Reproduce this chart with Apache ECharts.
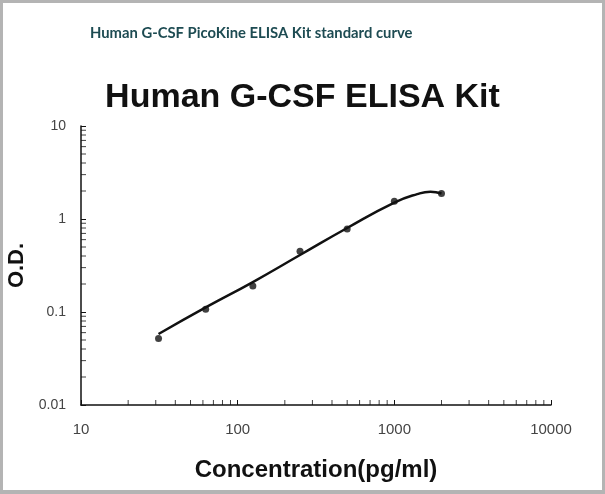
<!DOCTYPE html>
<html>
<head>
<meta charset="utf-8">
<script src="https://cdn.jsdelivr.net/npm/echarts@6/dist/echarts.min.js"></script>
<style>
html,body{margin:0;padding:0;background:#fff;}
#wrap{position:absolute;left:0;top:0;width:605px;height:494px;box-sizing:border-box;border:3px solid #b4b4b4;border-bottom-width:4px;}
#chart{position:absolute;left:0;top:0;width:605px;height:494px;}
</style>
</head>
<body>
<div id="chart"></div>
<div id="wrap"></div>
<script>
// Standard points
var concentrations = [31.25, 62.5, 125, 250, 500, 1000, 2000];
var odValues = [0.052, 0.107, 0.19, 0.45, 0.78, 1.55, 1.88];
// Fitted curve
var curveConc = [31.25, 62.5, 125, 250, 500, 1000, 1400, 1700, 2000];
var curveOd = [0.058, 0.112, 0.21, 0.41, 0.80, 1.50, 1.85, 1.96, 1.88];
// Axis tick labels
var xTickLabels = ['10', '100', '1000', '10000'];
var yTickLabels = ['0.01', '0.1', '1', '10'];
// Minor tick positions
var xMinorTicks = [20,30,40,50,60,70,80,90,200,300,400,500,600,700,800,900,2000,3000,4000,5000,6000,7000,8000,9000];
var yMinorTicks = [0.02,0.03,0.04,0.05,0.06,0.07,0.08,0.09,0.2,0.3,0.4,0.5,0.6,0.7,0.8,0.9,2,3,4,5,6,7,8,9];

var chart = echarts.init(document.getElementById('chart'));
var labelFont = '"Liberation Sans", Arial, sans-serif';

function fmt(v){
  return String(+v.toPrecision(6));
}

var option = {
  animation: false,
  backgroundColor: '#fff',
  title: [
    {
      text: 'Human G-CSF PicoKine ELISA Kit standard curve',
      left: 85, top: 21,
      textStyle: {fontFamily: 'Lato, sans-serif', fontWeight: 'bold', fontSize: 14.8, color: '#1d4b52'}
    },
    {
      text: 'Human G-CSF ELISA Kit',
      left: 'center', top: 76,
      textStyle: {fontFamily: labelFont, fontWeight: 'bold', fontSize: 34, color: '#111'}
    }
  ],
  grid: {left: 81, right: 54, top: 126, bottom: 89, outerBoundsMode: 'none', containLabel: false},
  xAxis: {
    type: 'log', logBase: 10, min: 10, max: 10000,
    name: 'Concentration(pg/ml)', nameLocation: 'middle', nameGap: 53,
    nameTextStyle: {fontFamily: labelFont, fontWeight: 'bold', fontSize: 24, color: '#111'},
    axisLine: {lineStyle: {color: '#111', width: 1.5}},
    axisTick: {inside: true, length: 5, lineStyle: {color: '#111'}},
    axisLabel: {
      margin: 17, fontFamily: labelFont, fontSize: 15, color: '#444',
      formatter: function(v){ var s = fmt(v); return xTickLabels.indexOf(s) >= 0 ? s : ''; }
    },
    splitLine: {show: false}
  },
  yAxis: {
    type: 'log', logBase: 10, min: 0.01, max: 10,
    name: 'O.D.', nameLocation: 'middle', nameGap: 52, nameRotate: 90,
    nameTextStyle: {fontFamily: labelFont, fontWeight: 'bold', fontSize: 22, color: '#111'},
    axisLine: {lineStyle: {color: '#111', width: 1.5}},
    axisTick: {inside: true, length: 5, lineStyle: {color: '#111'}},
    axisLabel: {
      margin: 15, fontFamily: labelFont, fontSize: 14, color: '#444',
      formatter: function(v){ var s = fmt(v); return yTickLabels.indexOf(s) >= 0 ? s : ''; }
    },
    splitLine: {show: false}
  },
  series: [
    {
      type: 'line', name: 'curve', smooth: 0.5,
      data: curveConc.map(function(c, i){ return [c, curveOd[i]]; }),
      showSymbol: false, symbol: 'none',
      lineStyle: {color: '#111', width: 2.5}
    },
    {
      type: 'scatter', name: 'standards',
      data: concentrations.map(function(c, i){ return [c, odValues[i]]; }),
      symbol: 'circle', symbolSize: 7,
      itemStyle: {color: '#111'}
    },
    {
      type: 'scatter', name: 'xminor', silent: true, clip: false,
      data: xMinorTicks.map(function(v){ return [v, 0.01]; }),
      symbol: 'rect', symbolSize: [1, 5], symbolOffset: [0, -2.5],
      itemStyle: {color: '#111'}
    },
    {
      type: 'scatter', name: 'yminor', silent: true, clip: false,
      data: yMinorTicks.map(function(v){ return [10, v]; }),
      symbol: 'rect', symbolSize: [5, 1], symbolOffset: [2.5, 0],
      itemStyle: {color: '#111'}
    }
  ]
};
chart.setOption(option);
</script>
</body>
</html>
